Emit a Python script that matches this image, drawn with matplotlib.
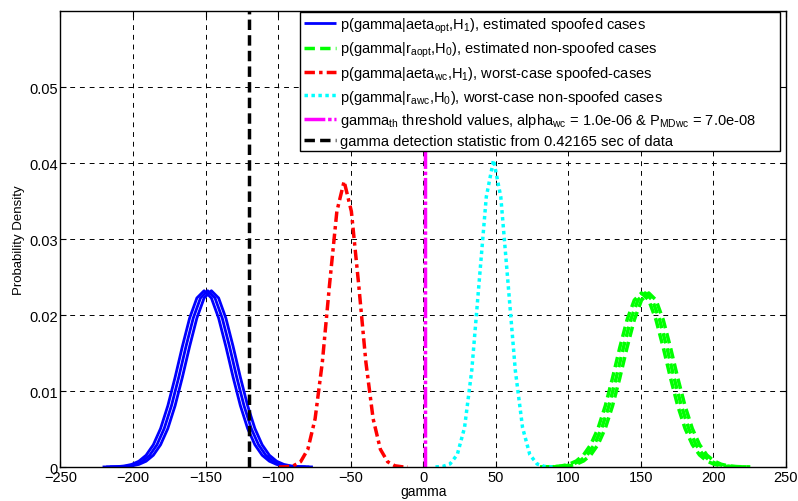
import numpy as np
import matplotlib.pyplot as plt

plt.rcParams['font.family'] = ['Liberation Sans', 'DejaVu Sans']
plt.rcParams['mathtext.fontset'] = 'custom'
plt.rcParams['mathtext.rm'] = 'Liberation Sans'
plt.rcParams['mathtext.it'] = 'Liberation Sans'

# offsets from each peak (gamma units) and density values
est_dx = [-70, -65, -60, -55, -50, -45, -40, -35, -30, -25, -20, -15, -10, -5, 0,
          5, 10, 15, 20, 25, 30, 35, 40, 45, 50, 55, 60, 65, 70]
spoof_est_pdf = [0.00001, 0.00002, 0.00005, 0.00014, 0.00034, 0.00076, 0.00155, 0.00293,
                 0.00507, 0.00807, 0.0118, 0.01586, 0.01959, 0.02224, 0.0232,
                 0.02224, 0.01959, 0.01586, 0.0118, 0.00807, 0.00507, 0.00293,
                 0.00155, 0.00076, 0.00034, 0.00014, 0.00005, 0.00002, 0.00001]
spoof_est_peaks = [-151.0, -148.5, -146.0]

nonspoof_est_pdf = [0.00002, 0.00003, 0.00006, 0.00015, 0.00036, 0.00079, 0.00158, 0.00295,
                    0.00507, 0.00803, 0.01170, 0.01570, 0.01935, 0.02196, 0.0229,
                    0.02196, 0.01935, 0.0157, 0.0117, 0.00803, 0.00507, 0.00295,
                    0.00158, 0.00079, 0.00036, 0.00015, 0.00006, 0.00003, 0.00002]
nonspoof_est_peaks = [150.5, 153.0, 155.5]

wc_spoof_dx = [-45, -40, -35, -30, -25, -20, -15, -10, -5, 0, 5, 10, 15, 20, 25, 30, 35, 40, 44]
wc_spoof_pdf = [0.0, 0.00003, 0.00016, 0.00069, 0.00233, 0.00634, 0.01381, 0.02409, 0.03364,
                0.0376, 0.03364, 0.02409, 0.01381, 0.00634, 0.00233, 0.00069, 0.00016,
                0.00003, 0.0]
wc_spoof_peak = -54.5

wc_nonspoof_dx = [-40, -35, -30, -25, -20, -15, -10, -5, 0, 5, 10, 15, 20, 25, 30, 35, 40, 42]
wc_nonspoof_pdf = [0.00001, 0.00008, 0.0004, 0.00163, 0.00518, 0.01273, 0.02418, 0.03554,
                   0.0404, 0.03554, 0.02418, 0.01273, 0.00518, 0.00163, 0.0004, 0.00008,
                   0.00001, 0.0]
wc_nonspoof_peak = 48.5

gamma_th = 1.5
gamma_stat = -120.0

leg_labels = [
    r'p(gamma|aeta$_{\rm opt}$,H$_{\rm 1}$), estimated spoofed cases',
    r'p(gamma|r$_{\rm aopt}$,H$_{\rm 0}$), estimated non-spoofed cases',
    r'p(gamma|aeta$_{\rm wc}$,H$_{\rm 1}$), worst-case spoofed-cases',
    r'p(gamma|r$_{\rm awc}$,H$_{\rm 0}$), worst-case non-spoofed cases',
    r'gamma$_{\rm th}$ threshold values, alpha$_{\rm wc}$ = 1.0e-06 & P$_{\rm MDwc}$ = 7.0e-08',
    'gamma detection statistic from 0.42165 sec of data',
]

fig = plt.figure(figsize=(7.98, 5.02), dpi=100)
ax = fig.add_axes([0.0758, 0.0677, 0.909, 0.9083])

handles = []
dx = np.array(est_dx)
for i, m in enumerate(spoof_est_peaks):
    h, = ax.plot(dx + m, spoof_est_pdf, color='#0000ff', lw=2, solid_capstyle='butt')
    if i == 0:
        handles.append(h)
for i, m in enumerate(nonspoof_est_peaks):
    h, = ax.plot(dx + m, nonspoof_est_pdf, color='#00ff00', lw=2.5, dashes=(3, 1.5))
    if i == 0:
        handles.append(h)
h, = ax.plot(np.array(wc_spoof_dx) + wc_spoof_peak, wc_spoof_pdf, color='#ff0000', lw=2.5,
             dashes=(3, 1.2, 1, 1.2))
handles.append(h)
h, = ax.plot(np.array(wc_nonspoof_dx) + wc_nonspoof_peak, wc_nonspoof_pdf, color='#00ffff',
             lw=2.5, dashes=(1, 1))
handles.append(h)
h, = ax.plot([gamma_th, gamma_th], [0, 0.06], color='#ff00ff', lw=2.5, dashes=(6, 0.8, 1, 0.8))
handles.append(h)
h, = ax.plot([gamma_stat, gamma_stat], [0, 0.06], color='black', lw=2.5, dashes=(3, 1.5))
handles.append(h)

ax.set_xlim(-250, 250)
ax.set_ylim(0, 0.06)
ax.set_xticks(np.arange(-250, 251, 50))
ax.set_yticks([0, 0.01, 0.02, 0.03, 0.04, 0.05])
ax.set_yticklabels(['0', '0.01', '0.02', '0.03', '0.04', '0.05'])
ax.tick_params(direction='in', length=4, labelsize=10.5, top=True, right=True, pad=2)
ax.grid(True, color='black', lw=0.7, dashes=(5, 5))
for s in ax.spines.values():
    s.set_linewidth(1)
ax.set_xlabel('gamma', fontsize=10, labelpad=0)
ax.set_ylabel('Probability Density', fontsize=9.5, labelpad=3)

leg = ax.legend(handles, leg_labels, loc='upper left', bbox_to_anchor=(0.33, 0.0, 0.662, 0.998),
                mode='expand', fontsize=10.5, handlelength=2.2,
                handletextpad=0.3, borderaxespad=0.0, borderpad=0.25, labelspacing=0.35,
                fancybox=False, framealpha=1, edgecolor='black')
leg.get_frame().set_linewidth(1)

fig.savefig('out.png', dpi=100)
